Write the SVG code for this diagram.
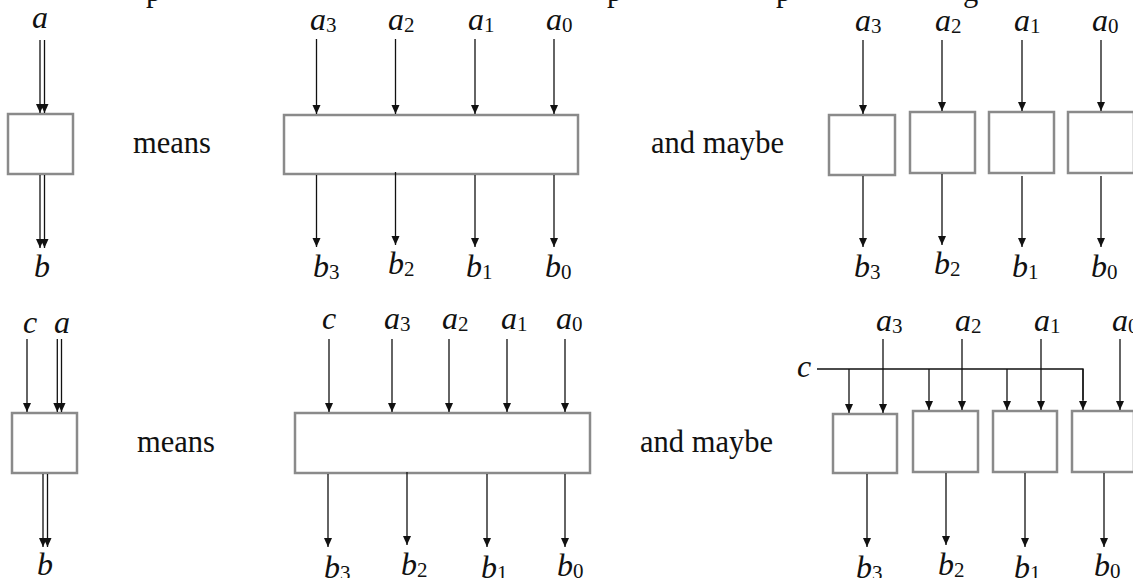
<svg xmlns="http://www.w3.org/2000/svg" width="1133" height="578" viewBox="0 0 1133 578">
<style>
.box{fill:#fff;stroke:#8a8a8a;stroke-width:2.5}
.w{stroke:#111;stroke-width:1.3;fill:none}
.a{marker-end:url(#ah)}
.lab{font-family:"Liberation Serif",serif;font-style:italic;font-size:32px;fill:#111}
.sub{font-style:normal;font-size:21px}
.txt{font-family:"Liberation Serif",serif;font-size:30.5px;fill:#111}
</style>
<defs>
<marker id="ah" markerUnits="userSpaceOnUse" markerWidth="10" markerHeight="9" refX="9" refY="4" orient="auto">
<path d="M0,0 L9,4 L0,8 z" fill="#111"/>
</marker>
</defs>
<rect width="1133" height="578" fill="#fff"/>
<!-- cut-off text line at top -->
<g id="topline" class="txt">
<text x="146" y="1">p</text>
<text x="607" y="1">p</text>
<text x="776" y="1">p</text>
<text x="963" y="1">g</text>
</g>
<!-- nodes -->
<g id="box-top-single"><rect class="box" x="8" y="114" width="65" height="60"/></g>
<g id="box-top-wide"><rect class="box" x="284" y="115" width="294" height="59"/></g>
<g id="box-top-r3"><rect class="box" x="829" y="115" width="66" height="60"/></g>
<g id="box-top-r2"><rect class="box" x="910" y="112" width="65" height="61"/></g>
<g id="box-top-r1"><rect class="box" x="989" y="112" width="65" height="61"/></g>
<g id="box-top-r0"><rect class="box" x="1068" y="112" width="66" height="61"/></g>
<g id="box-bot-single"><rect class="box" x="12" y="413" width="65" height="60"/></g>
<g id="box-bot-wide"><rect class="box" x="295" y="413" width="295" height="60"/></g>
<g id="box-bot-r3"><rect class="box" x="833" y="414" width="64" height="59"/></g>
<g id="box-bot-r2"><rect class="box" x="913" y="411" width="65" height="61"/></g>
<g id="box-bot-r1"><rect class="box" x="993" y="411" width="64" height="61"/></g>
<g id="box-bot-r0"><rect class="box" x="1072" y="411" width="62" height="61"/></g>
<!-- connectors -->
<g id="connectors" class="w">
<line class="a" x1="40" y1="40" x2="40" y2="113"/>
<line class="a" x1="44.5" y1="40" x2="44.5" y2="113"/>
<line class="a" x1="40" y1="175" x2="40" y2="248"/>
<line class="a" x1="44.5" y1="175" x2="44.5" y2="248"/>
<line class="a" x1="316.5" y1="39" x2="316.5" y2="114"/>
<line class="a" x1="395.5" y1="39" x2="395.5" y2="114"/>
<line class="a" x1="475" y1="39" x2="475" y2="114"/>
<line class="a" x1="554" y1="39" x2="554" y2="114"/>
<line class="a" x1="316.5" y1="175" x2="316.5" y2="247"/>
<line class="a" x1="395.5" y1="172" x2="395.5" y2="245"/>
<line class="a" x1="475" y1="175" x2="475" y2="247"/>
<line class="a" x1="554" y1="175" x2="554" y2="247"/>
<line class="a" x1="863" y1="40" x2="863" y2="114"/>
<line class="a" x1="942" y1="40" x2="942" y2="111"/>
<line class="a" x1="1022" y1="40" x2="1022" y2="111"/>
<line class="a" x1="1101" y1="40" x2="1101" y2="111"/>
<line class="a" x1="863" y1="176" x2="863" y2="247"/>
<line class="a" x1="942" y1="174" x2="942" y2="245"/>
<line class="a" x1="1022" y1="176" x2="1022" y2="247"/>
<line class="a" x1="1101" y1="176" x2="1101" y2="247"/>
<line class="a" x1="27" y1="339" x2="27" y2="412"/>
<line class="a" x1="57.3" y1="339" x2="57.3" y2="412"/>
<line class="a" x1="61.5" y1="339" x2="61.5" y2="412"/>
<line class="a" x1="43" y1="474" x2="43" y2="547"/>
<line class="a" x1="47.5" y1="474" x2="47.5" y2="547"/>
<line class="a" x1="329" y1="339" x2="329" y2="412"/>
<line class="a" x1="392" y1="339" x2="392" y2="412"/>
<line class="a" x1="449" y1="339" x2="449" y2="412"/>
<line class="a" x1="507" y1="339" x2="507" y2="412"/>
<line class="a" x1="565" y1="339" x2="565" y2="412"/>
<line class="a" x1="328" y1="474" x2="328" y2="547"/>
<line class="a" x1="407" y1="472" x2="407" y2="545"/>
<line class="a" x1="487" y1="474" x2="487" y2="547"/>
<line class="a" x1="565" y1="474" x2="565" y2="547"/>
<polyline points="817,369 1083,369 1083,400"/>
<line class="a" x1="1083" y1="369" x2="1083" y2="410"/>
<line class="a" x1="849" y1="369" x2="849" y2="413"/>
<line class="a" x1="929" y1="369" x2="929" y2="410"/>
<line class="a" x1="1007" y1="369" x2="1007" y2="410"/>
<line class="a" x1="883" y1="339" x2="883" y2="413"/>
<line class="a" x1="962" y1="339" x2="962" y2="410"/>
<line class="a" x1="1041" y1="339" x2="1041" y2="410"/>
<line class="a" x1="1120" y1="339" x2="1120" y2="410"/>
<line class="a" x1="867" y1="474" x2="867" y2="547"/>
<line class="a" x1="946" y1="473" x2="946" y2="545"/>
<line class="a" x1="1025" y1="473" x2="1025" y2="547"/>
<line class="a" x1="1104" y1="473" x2="1104" y2="547"/>
</g>
<!-- labels -->
<g id="labels-top" class="lab">
<text x="32" y="28">a</text>
<text x="34" y="277">b</text>
<text x="310" y="30">a<tspan class="sub" dy="2">3</tspan></text>
<text x="388" y="30">a<tspan class="sub" dy="2">2</tspan></text>
<text x="468" y="30">a<tspan class="sub" dy="2">1</tspan></text>
<text x="546" y="30">a<tspan class="sub" dy="2">0</tspan></text>
<text x="313" y="277">b<tspan class="sub" dy="2">3</tspan></text>
<text x="388" y="274">b<tspan class="sub" dy="2">2</tspan></text>
<text x="466" y="277">b<tspan class="sub" dy="2">1</tspan></text>
<text x="545" y="277">b<tspan class="sub" dy="2">0</tspan></text>
<text x="855" y="31">a<tspan class="sub" dy="2">3</tspan></text>
<text x="935" y="31">a<tspan class="sub" dy="2">2</tspan></text>
<text x="1014" y="31">a<tspan class="sub" dy="2">1</tspan></text>
<text x="1092" y="31">a<tspan class="sub" dy="2">0</tspan></text>
<text x="854" y="277">b<tspan class="sub" dy="2">3</tspan></text>
<text x="934" y="274">b<tspan class="sub" dy="2">2</tspan></text>
<text x="1012" y="277">b<tspan class="sub" dy="2">1</tspan></text>
<text x="1091" y="277">b<tspan class="sub" dy="2">0</tspan></text>
</g>
<g id="labels-bottom" class="lab">
<text x="23" y="333">c</text>
<text x="54" y="333">a</text>
<text x="37" y="575">b</text>
<text x="322" y="329">c</text>
<text x="384" y="329">a<tspan class="sub" dy="2">3</tspan></text>
<text x="442" y="329">a<tspan class="sub" dy="2">2</tspan></text>
<text x="501" y="329">a<tspan class="sub" dy="2">1</tspan></text>
<text x="556" y="329">a<tspan class="sub" dy="2">0</tspan></text>
<text x="324" y="578">b<tspan class="sub" dy="2">3</tspan></text>
<text x="401" y="575">b<tspan class="sub" dy="2">2</tspan></text>
<text x="481" y="578">b<tspan class="sub" dy="2">1</tspan></text>
<text x="557" y="576">b<tspan class="sub" dy="2">0</tspan></text>
<text x="797" y="377">c</text>
<text x="876" y="331">a<tspan class="sub" dy="2">3</tspan></text>
<text x="955" y="331">a<tspan class="sub" dy="2">2</tspan></text>
<text x="1034" y="331">a<tspan class="sub" dy="2">1</tspan></text>
<text x="1112" y="331">a<tspan class="sub" dy="2">0</tspan></text>
<text x="856" y="578">b<tspan class="sub" dy="2">3</tspan></text>
<text x="938" y="575">b<tspan class="sub" dy="2">2</tspan></text>
<text x="1014" y="578">b<tspan class="sub" dy="2">1</tspan></text>
<text x="1094" y="576">b<tspan class="sub" dy="2">0</tspan></text>
</g>
<g id="words" class="txt">
<text x="133" y="153">means</text>
<text x="651" y="153">and maybe</text>
<text x="137" y="452">means</text>
<text x="640" y="452">and maybe</text>
</g>
</svg>
